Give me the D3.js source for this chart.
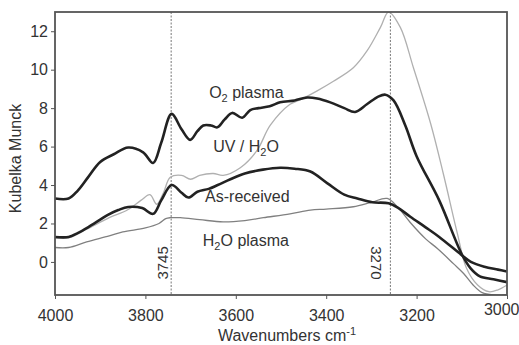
<!DOCTYPE html>
<html><head><meta charset="utf-8">
<script src="https://cdn.jsdelivr.net/npm/d3@7"></script>
<style>body{margin:0;background:#fff}svg{display:block}text{font-family:"Liberation Sans",Arial,sans-serif;fill:#333}</style>
</head><body><svg id="c" width="519" height="345"></svg>
<script>
const o2Plasma = [[4000,3.3],[3970,3.3],[3950,3.7],[3927,4.4],[3900,5.2],[3870,5.6],[3838,5.95],[3805,5.7],[3783,5.15],[3765,6.2],[3742,7.7],[3720,6.9],[3701,6.35],[3685,6.8],[3672,7.1],[3655,7.1],[3641,7.0],[3625,7.4],[3608,7.75],[3586,7.5],[3568,7.9],[3550,8.0],[3525,8.1],[3502,8.3],[3470,8.4],[3442,8.55],[3420,8.5],[3391,8.3],[3360,8.0],[3336,7.8],[3310,8.2],[3285,8.6],[3269,8.7],[3251,8.4],[3225,7.1],[3200,5.5],[3150,3.2],[3100,0.4],[3080,-0.35],[3060,-0.75],[3030,-0.9],[3000,-1.05]];
const asReceived = [[4000,1.3],[3970,1.3],[3950,1.5],[3927,1.8],[3900,2.2],[3883,2.45],[3860,2.7],[3838,2.86],[3807,2.8],[3783,2.5],[3765,3.2],[3742,4.0],[3720,3.6],[3705,3.35],[3685,3.65],[3660,3.8],[3640,4.0],[3612,4.3],[3580,4.6],[3540,4.8],[3502,4.9],[3470,4.85],[3435,4.7],[3398,4.1],[3360,3.5],[3331,3.3],[3298,3.1],[3262,3.05],[3240,2.8],[3214,2.35],[3180,1.8],[3150,1.3],[3100,0.35],[3080,0.0],[3050,-0.25],[3020,-0.4],[3000,-0.5]];
const uvH2O = [[4000,1.25],[3970,1.25],[3930,1.7],[3880,2.3],[3840,2.7],[3810,3.2],[3790,3.5],[3775,3.0],[3760,3.6],[3745,4.4],[3720,4.5],[3700,4.3],[3680,4.5],[3650,4.6],[3628,4.5],[3590,4.9],[3553,5.8],[3524,7.1],[3480,8.2],[3457,8.44],[3420,8.9],[3384,9.4],[3340,10.1],[3309,11.0],[3280,12.2],[3262,13.0],[3236,12.2],[3207,10.1],[3169,7.2],[3141,4.6],[3110,1.5],[3090,-0.3],[3065,-1.2],[3040,-1.55],[3020,-1.45],[3000,-1.2]];
const h2oPlasma = [[4000,0.75],[3970,0.75],[3930,1.04],[3880,1.35],[3850,1.56],[3800,1.77],[3770,2.0],[3755,2.25],[3745,2.3],[3723,2.3],[3680,2.2],[3628,2.08],[3580,2.15],[3539,2.3],[3480,2.5],[3435,2.7],[3400,2.75],[3340,2.87],[3300,3.1],[3265,3.3],[3240,2.8],[3214,2.05],[3180,1.2],[3154,0.7],[3118,-0.1],[3096,-0.6],[3075,-1.2],[3055,-1.6],[3030,-1.72],[3000,-1.7]];
const xTicks = [4000,3800,3600,3400,3200,3000];
const yTicks = [0,2,4,6,8,10,12];
const markerLines = [{pos:3743,label:"3745",rot:-90},{pos:3258,label:"3270",rot:90}];
const seriesLabels = [
  {x:3659,y:8.53,parts:[["O",0],["2",1],[" plasma",0]]},
  {x:3650,y:5.72,parts:[["UV / H",0],["2",1],["O",0]]},
  {x:3668,y:3.12,parts:[["As-received",0]]},
  {x:3673,y:0.83,parts:[["H",0],["2",1],["O plasma",0]]}
];

const W=519,H=345,m={l:55,r:12,t:12,b:50};
const svg=d3.select("#c");
const x=d3.scaleLinear().domain([4000,3000]).range([m.l,W-m.r]);
const y=d3.scaleLinear().domain([-1.72,13.0]).range([H-m.b,m.t]);

svg.append("defs").append("clipPath").attr("id","clip").append("rect")
  .attr("x",m.l).attr("y",m.t).attr("width",W-m.l-m.r).attr("height",H-m.t-m.b);

// marker lines
markerLines.forEach(d=>{
  svg.append("line").attr("x1",x(d.pos)).attr("x2",x(d.pos)).attr("y1",m.t).attr("y2",H-m.b)
    .attr("stroke","#777").attr("stroke-width",1).attr("stroke-dasharray","2,1.5");
  const tx = d.rot<0 ? x(d.pos)-9 : x(d.pos)-14;
  svg.append("text").attr("transform",`translate(${tx},${y(-0.05)}) rotate(${d.rot})`)
    .attr("text-anchor","middle").attr("dominant-baseline","central").style("font-size","15px").text(d.label);
});

const line=d3.line().x(d=>x(d[0])).y(d=>y(d[1])).curve(d3.curveCatmullRom.alpha(0.5));
const g=svg.append("g").attr("clip-path","url(#clip)");
g.append("path").datum(uvH2O).attr("d",line).attr("fill","none").attr("stroke","#b0b0b0").attr("stroke-width",1.3);
g.append("path").datum(h2oPlasma).attr("d",line).attr("fill","none").attr("stroke","#808080").attr("stroke-width",1.3);
g.append("path").datum(asReceived).attr("d",line).attr("fill","none").attr("stroke","#222").attr("stroke-width",2.6);
g.append("path").datum(o2Plasma).attr("d",line).attr("fill","none").attr("stroke","#222").attr("stroke-width",2.6);

// series labels
seriesLabels.forEach(d=>{
  const t=svg.append("text").attr("x",x(d.x)).attr("y",y(d.y)).style("font-size","16px").attr("fill","#222");
  d.parts.forEach(p=>{
    const ts=t.append("tspan").text(p[0]);
    if(p[1]){ts.attr("dy","4").style("font-size","11px");}
    else if(t.selectAll("tspan").size()>1){ts.attr("dy","-4");}
  });
});

// frame
svg.append("rect").attr("x",m.l).attr("y",m.t).attr("width",W-m.l-m.r).attr("height",H-m.t-m.b)
  .attr("fill","none").attr("stroke","#555").attr("stroke-width",1.8);

// axes
const xa=svg.append("g").attr("transform",`translate(0,${H-m.b})`)
  .call(d3.axisBottom(x).tickValues(xTicks).tickFormat(d3.format("d")).tickSize(4).tickPadding(11));
const ya=svg.append("g").attr("transform",`translate(${m.l},0)`)
  .call(d3.axisLeft(y).tickValues(yTicks).tickSize(4).tickPadding(3));
[xa,ya].forEach(a=>{a.select(".domain").remove();a.selectAll("line").attr("stroke","#555");
  a.selectAll("text").style("font-size","16px").attr("fill","#333").style("font-family","'Liberation Sans',Arial,sans-serif");});
xa.selectAll(".tick").filter(d=>d===3000).select("text").attr("text-anchor","end").attr("dx","12").attr("y","9");

svg.append("text").attr("x",(m.l+W-m.r)/2+6).attr("y",H-4).attr("text-anchor","middle").style("font-size","16px")
  .text("Wavenumbers cm").append("tspan").attr("dy","-6").style("font-size","11px").text("-1");
svg.append("text").attr("transform",`translate(21,${(m.t+H-m.b)/2+5}) rotate(-90)`).attr("text-anchor","middle")
  .style("font-size","16px").text("Kubelka Munck");
</script></body></html>
